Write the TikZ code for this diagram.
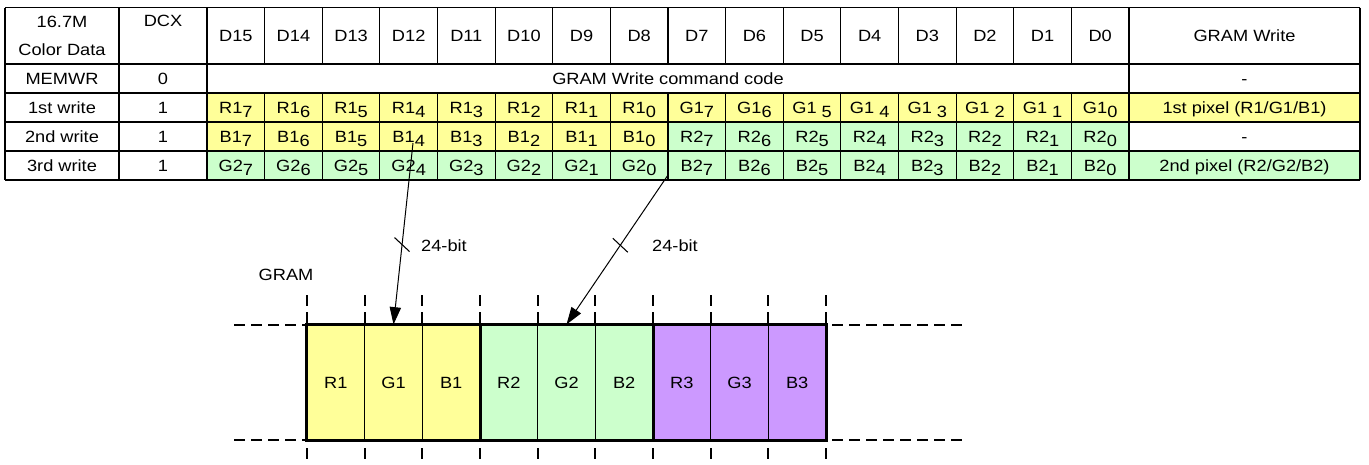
\documentclass[tikz,border=0pt]{standalone}
\usepackage{fontspec}
\setmainfont{Liberation Sans}[FakeStretch=1.12]
\usetikzlibrary{arrows.meta}
\definecolor{ylw}{RGB}{255,255,153}
\definecolor{grn}{RGB}{204,255,204}
\definecolor{prp}{RGB}{204,153,255}
\newcommand\lowd[1]{\raisebox{-3.4pt}{#1}}
\newcommand\tfont{\fontsize{12.2}{14}\selectfont}
\begin{document}
\begin{tikzpicture}[x=0.75pt,y=-0.75pt,
  tline/.style={line width=0.8pt},
  kline/.style={line width=1.6pt},
  dline/.style={line width=1.5pt,dash pattern=on 8.25pt off 4.5pt},
  txt/.style={inner sep=0pt,anchor=base,font=\tfont},
  gcell/.style={draw,tline,minimum width=43.25pt,minimum height=86.25pt,inner sep=0pt,font=\tfont},
  arr/.style={-{Triangle[length=13pt,width=8.5pt]},line width=0.75pt}]
\useasboundingbox (0,0) rectangle (1369,464);
% ---------- table fills
\fill[ylw] (207,93) rectangle (1129,122);
\fill[ylw] (1129,93) rectangle (1360,122);
\fill[ylw] (207,122) rectangle (668,151);
\fill[grn] (668,122) rectangle (1129,151);
\fill[grn] (207,151) rectangle (1129,180);
\fill[grn] (1129,151) rectangle (1360,180);
% ---------- grid
\foreach \yy in {7.5,64,93,122,151,180} \draw[tline] (5,\yy) -- (1360,\yy);
\foreach \xx in {5,119,207,1129,1360} \draw[tline] (\xx,7.5) -- (\xx,180);
\foreach \i in {1,...,15} {
  \pgfmathsetmacro\xx{207+57.625*\i}
  \draw[tline] (\xx,7.5) -- (\xx,64);
  \draw[tline] (\xx,93) -- (\xx,180);
}
\draw[kline] (207,93) -- (1129,93) -- (1129,122) -- (668,122) -- (668,151) -- (207,151) -- cycle;
\draw[kline] (668,122) -- (1129,122) -- (1129,180) -- (207,180) -- (207,151) -- (668,151) -- cycle;
% ---------- header
\node[txt] (h1a) at (62,27.5) {16.7M};
\node[txt] (h1b) at (62,55) {Color Data};
\node[txt] (hdcx) at (163,26.7) {DCX};
\foreach \t [count=\i from 0] in {D15,D14,D13,D12,D11,D10,D9,D8,D7,D6,D5,D4,D3,D2,D1,D0} {
  \pgfmathsetmacro\cx{207+57.625*(\i+0.5)}
  \node[txt] (hd\i) at (\cx,41.5) {\t};
}
\node[txt] (hgw) at (1244.5,41.5) {GRAM Write};
% ---------- MEMWR row
\node[txt] (m1) at (62,84.3) {MEMWR};
\node[txt] (m2) at (163,84.3) {0};
\node[txt] (m3) at (668,84.3) {GRAM Write command code};
\node[txt] (m4) at (1244.5,84.3) {-};
% ---------- 1st write
\node[txt] (w1a) at (62,113.4) {1st write};
\node[txt] (w1b) at (163,113.4) {1};
\foreach \t [count=\i from 0] in {R1\lowd{7},R1\lowd{6},R1\lowd{5},R1\lowd{4},R1\lowd{3},R1\lowd{2},R1\lowd{1},R1\lowd{0},G1\lowd{7},G1\lowd{6},G1\ \lowd{5},G1\ \lowd{4},G1\ \lowd{3},G1\ \lowd{2},G1\ \lowd{1},G1\lowd{0}} {
  \pgfmathsetmacro\cx{207+57.625*(\i+0.5)}
  \node[txt] (wa\i) at (\cx,113.4) {\t};
}
\node[txt] (w1g) at (1244.5,113.4) {1st pixel (R1/G1/B1)};
% ---------- 2nd write
\node[txt] (w2a) at (62,142.4) {2nd write};
\node[txt] (w2b) at (163,142.4) {1};
\foreach \t [count=\i from 0] in {B1\lowd{7},B1\lowd{6},B1\lowd{5},B1\lowd{4},B1\lowd{3},B1\lowd{2},B1\lowd{1},B1\lowd{0},R2\lowd{7},R2\lowd{6},R2\lowd{5},R2\lowd{4},R2\lowd{3},R2\lowd{2},R2\lowd{1},R2\lowd{0}} {
  \pgfmathsetmacro\cx{207+57.625*(\i+0.5)}
  \node[txt] (wb\i) at (\cx,142.4) {\t};
}
\node[txt] (w2g) at (1244.5,142.4) {-};
% ---------- 3rd write
\node[txt] (w3a) at (62,171.4) {3rd write};
\node[txt] (w3b) at (163,171.4) {1};
\foreach \t [count=\i from 0] in {G2\lowd{7},G2\lowd{6},G2\lowd{5},G2\lowd{4},G2\lowd{3},G2\lowd{2},G2\lowd{1},G2\lowd{0},B2\lowd{7},B2\lowd{6},B2\lowd{5},B2\lowd{4},B2\lowd{3},B2\lowd{2},B2\lowd{1},B2\lowd{0}} {
  \pgfmathsetmacro\cx{207+57.625*(\i+0.5)}
  \node[txt] (wc\i) at (\cx,171.4) {\t};
}
\node[txt] (w3g) at (1244.5,171.4) {2nd pixel (R2/G2/B2)};
% ---------- GRAM
\node[txt] (gram) at (286,280) {GRAM};
\foreach \i in {0,...,9} {
  \pgfmathsetmacro\xx{307+57.667*\i}
  \draw[dline] (\xx,295) -- (\xx,464);
}
\draw[dline] (234,325) -- (307,325);
\draw[dline] (234,440) -- (307,440);
\draw[dline] (832,325) -- (967,325);
\draw[dline] (832,440) -- (967,440);
\foreach \t/\c [count=\i from 0] in {R1/ylw,G1/ylw,B1/ylw,R2/grn,G2/grn,B2/grn,R3/prp,G3/prp,B3/prp} {
  \pgfmathsetmacro\cx{307+57.667*(\i+0.5)}
  \node[gcell,fill=\c] (c\i) at (\cx,382.5) {\t};
}
\draw[kline] (c0.north west) -- (c8.north east) -- (c8.south east) -- (c0.south west) -- cycle;
\draw[kline] (c2.north east) -- (c2.south east);
\draw[kline] (c5.north east) -- (c5.south east);
% ---------- arrows
\coordinate (a1s) at (413,143);
\coordinate (a2s) at (668,175);
\draw[arr] (a1s) -- (c1.north);
\draw[arr] (a2s) -- (c4.north);
\path (a1s) -- (c1.north) coordinate[pos=0.56] (t1);
\path (a2s) -- (c4.north) coordinate[pos=0.47] (t2);
\draw[tline] ([shift={(-7.5,-7)}]t1) -- ([shift={(7.5,7)}]t1);
\draw[tline] ([shift={(-7.5,-7)}]t2) -- ([shift={(7.5,7)}]t2);
\node[txt] (l1) at (444,251) {24-bit};
\node[txt] (l2) at (675,251) {24-bit};
\end{tikzpicture}
\end{document}
